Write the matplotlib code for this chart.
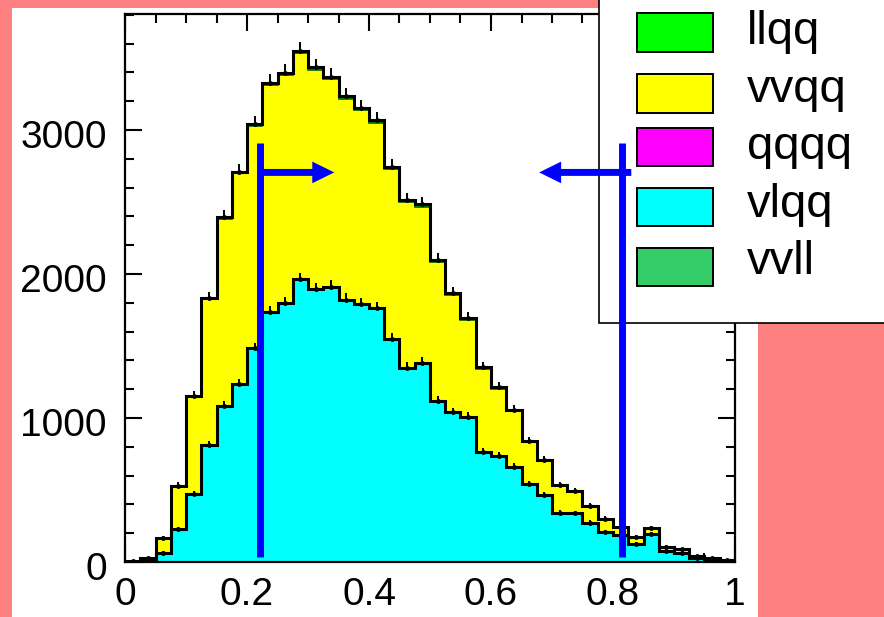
import numpy as np
import matplotlib
matplotlib.use("Agg")
import matplotlib.pyplot as plt
import matplotlib.transforms as mtransforms
from matplotlib.patches import Rectangle
from matplotlib.ticker import MultipleLocator, FuncFormatter

plt.rcParams["font.family"] = ["Liberation Sans", "DejaVu Sans"]

# ── datos (40 bins de 0 a 1) ──────────────────────────────────────────────
bin_edges = np.linspace(0.0, 1.0, 41)

vlqq = [3, 15, 65, 230, 472, 813, 1083, 1236, 1484, 1734,
        1796, 1965, 1896, 1912, 1822, 1789, 1766, 1549, 1349, 1384,
        1120, 1040, 1009, 766, 738, 662, 542, 465, 340, 338,
        273, 211, 188, 125, 194, 79, 65, 26, 20, 8]
qqqq = [0, 0, 0, 0, 0, 1, 1, 1, 1, 1,
        1, 1, 1, 1, 1, 1, 1, 1, 1, 1,
        1, 1, 1, 1, 1, 1, 0, 0, 0, 0,
        0, 0, 0, 0, 0, 0, 0, 0, 0, 0]
vvqq = [2, 10, 100, 298, 676, 1010, 1299, 1461, 1543, 1577,
        1584, 1567, 1520, 1438, 1393, 1346, 1284, 1177, 1148, 1083,
        961, 813, 672, 573, 463, 384, 292, 238, 186, 149,
        111, 83, 49, 48, 37, 25, 21, 17, 9, 6]
llqq = [0, 0, 0, 2, 4, 6, 8, 10, 12, 14,
        14, 15, 15, 16, 16, 16, 15, 15, 14, 14,
        13, 12, 11, 10, 9, 8, 7, 6, 5, 5,
        4, 4, 3, 3, 3, 2, 2, 1, 1, 0]
vvll = [0, 0, 0, 0, 1, 1, 2, 2, 2, 3,
        3, 3, 3, 3, 3, 3, 3, 3, 2, 2,
        2, 2, 2, 2, 2, 1, 1, 1, 1, 1,
        1, 1, 1, 0, 0, 0, 0, 0, 0, 0]

legend_labels = ["llqq", "vvqq", "qqqq", "vlqq", "vvll"]
legend_colors = ["#00ff00", "#ffff00", "#ff00ff", "#00ffff", "#33cc66"]

# cortes
cut_lo, cut_hi = 0.221, 0.815
cut_bottom, cut_top = 35, 2910
arrow_y = 2705
arrow_lo_start, arrow_lo_tip = 0.221, 0.343
arrow_hi_start, arrow_hi_tip = 0.830, 0.679

# ── figura ────────────────────────────────────────────────────────────────
W, H = 884, 617
fig = plt.figure(figsize=(W / 100, H / 100), dpi=100)
fig.patch.set_facecolor("#ff8080")
fig.add_artist(Rectangle((12 / W, 0), 746 / W, 609 / H, transform=fig.transFigure,
                         facecolor="white", edgecolor="none", zorder=-1))

ax = fig.add_axes([125 / W, 55 / H, 610 / W, 548 / H])
ax.set_axisbelow(True)

# stack: vlqq, qqqq, vvqq, llqq, vvll (de abajo hacia arriba)
stack = np.array([vlqq, qqqq, vvqq, llqq, vvll], dtype=float)
stack_colors = ["#00ffff", "#ff00ff", "#ffff00", "#00ff00", "#33cc66"]
cum = np.cumsum(stack, axis=0)
base = np.zeros(stack.shape[1])
for top, col in zip(cum, stack_colors):
    ax.stairs(top, bin_edges, baseline=base, fill=True, facecolor=col,
              edgecolor="none", zorder=1)
    base = top

ax.stairs(cum[2], bin_edges, baseline=None, color="#006400", lw=1.2, zorder=2)
ax.stairs(cum[0], bin_edges, baseline=0, color="black", lw=2.2, zorder=3)
ax.stairs(cum[-1], bin_edges, baseline=0, color="black", lw=2.2, zorder=3)

centers = 0.5 * (bin_edges[:-1] + bin_edges[1:])
for top in (cum[0], cum[-1]):
    ax.errorbar(centers, top, yerr=[np.zeros_like(top), np.sqrt(top)], fmt="o",
                ms=2.5, color="black", elinewidth=1.4, capsize=0, zorder=4)

ax.set_xlim(0, 1)
ax.set_ylim(0, 3805)
ax.xaxis.set_major_locator(MultipleLocator(0.2))
ax.xaxis.set_minor_locator(MultipleLocator(0.05))
ax.yaxis.set_major_locator(MultipleLocator(1000))
ax.yaxis.set_minor_locator(MultipleLocator(200))
ax.xaxis.set_major_formatter(FuncFormatter(lambda v, _: f"{v:g}"))
ax.tick_params(which="both", direction="in", top=True, right=True, width=1.5,
               labelsize=28, pad=11)
ax.tick_params(axis="y", pad=13)
ax.tick_params(which="major", length=12.5)
ax.tick_params(which="minor", length=6.5)
for sp in ax.spines.values():
    sp.set_linewidth(1.6)

# etiquetas Y un poco por debajo de la marca, como en ROOT
shift = mtransforms.ScaledTranslation(0, -4 / 100, fig.dpi_scale_trans)
for tick in ax.yaxis.get_major_ticks():
    tick.label1.set_transform(tick.label1.get_transform() + shift)

# cortes con flechas
ax.vlines([cut_lo, cut_hi], cut_bottom, cut_top, colors="blue", lw=5,
          zorder=20, clip_on=False)
arrow_kw = dict(width=5, headwidth=15.6, headlength=15.8, shrink=0,
                color="blue", lw=0)
ax.annotate("", xy=(arrow_lo_tip, arrow_y), xytext=(arrow_lo_start, arrow_y),
            arrowprops=arrow_kw, zorder=20, annotation_clip=False)
ax.annotate("", xy=(arrow_hi_tip, arrow_y), xytext=(arrow_hi_start, arrow_y),
            arrowprops=arrow_kw, zorder=20, annotation_clip=False)

# leyenda (caja recortada por el borde de la figura, estilo ROOT)
tf = fig.transFigure
ax.add_patch(Rectangle((599 / W, 1 - 323 / H), 0.5, 0.6, transform=tf,
                       facecolor="white", edgecolor="black", lw=1.2,
                       zorder=15, clip_on=False))
box_centers = [32.5, 93.5, 147, 207, 267]
text_baselines = [44.5, 102, 159.5, 217, 274.5]
for lab, col, yc, yb in zip(legend_labels, legend_colors, box_centers, text_baselines):
    ax.add_patch(Rectangle((637 / W, 1 - (yc + 19) / H), 76 / W, 38 / H,
                           transform=tf, facecolor=col, edgecolor="black",
                           lw=1.4, zorder=16, clip_on=False))
    ax.text(747 / W, 1 - yb / H, lab, transform=tf, fontsize=34,
            va="baseline", ha="left", zorder=16)

fig.savefig("out.png", dpi=100, facecolor=fig.get_facecolor())
